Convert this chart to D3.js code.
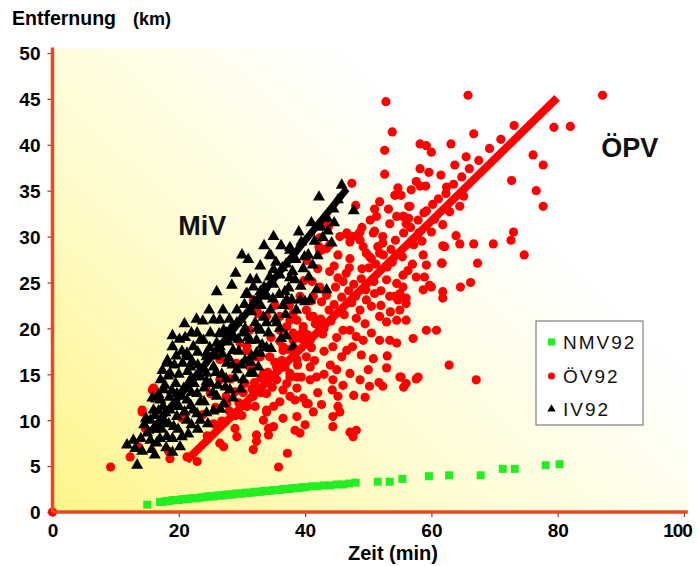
<!DOCTYPE html>
<html><head><meta charset="utf-8">
<script src="https://cdn.jsdelivr.net/npm/d3@7"></script>
<style>
html,body{margin:0;padding:0;background:#fff;}
svg{display:block;font-family:"Liberation Sans",Arial,sans-serif;}
</style></head>
<body>
<svg id="chart" width="698" height="566"></svg>
<script>
// ---- data ----
const xTicks = [0, 20, 40, 60, 80, 100];
const yTicks = [0, 5, 10, 15, 20, 25, 30, 35, 40, 45, 50];
const seriesNames = ["NMV92", "ÖV92", "IV92"];
const seriesColors = ["#22ee22", "#ff0000", "#000000"];

const nmv92 = [[15,0.8],[17,1.1],[17.5,1.1],[18,1.2],[18.5,1.2],[19,1.3],[19.5,1.3],[20,1.3],[20.5,1.4],[21,1.4],[21.5,1.4],[22,1.5],[22.5,1.5],[23,1.5],[23.5,1.6],[24,1.6],[24.5,1.7],[25,1.7],[25.5,1.7],[26,1.8],[26.5,1.8],[27,1.8],[27.5,1.9],[28,1.9],[28.5,1.9],[29,2.0],[29.5,2.0],[30,2.0],[30.5,2.1],[31,2.1],[31.5,2.1],[32,2.2],[32.5,2.2],[33,2.2],[33.5,2.3],[34,2.3],[34.5,2.3],[35,2.4],[35.5,2.4],[36,2.4],[36.5,2.5],[37,2.5],[37.5,2.5],[38,2.6],[38.5,2.6],[39,2.6],[39.5,2.7],[40,2.7],[41,2.8],[42,2.8],[43,2.9],[44,2.9],[45,3.0],[46,3.0],[47,3.1],[48,3.2],
[51.5,3.3],[53.4,3.3],[55.4,3.6],[59.6,3.9],[62.8,4.0],[67.8,4.0],[71.3,4.7],[73.2,4.7],[78.1,5.1],[80.3,5.2]];

const oev92 = [[0,0],[9.2,4.9],[12.3,6.0],[14.2,10.9],[15.8,13.3],[14.7,9.1],[13.6,7.1],[18.4,6.6],[18.6,5.8],[22.9,5.5],[20.5,10.2],[24.4,13.8],[25.0,12.9],[26.5,7.5],[27.1,7.1],[28.9,9.1],[29.2,8.2],[30.8,11.5],[33.4,10.0],[33.9,11.1],[35.0,9.3],[28.9,13.1],[30.5,14.0],[31.3,15.8],[32.3,16.9],[27.6,11.8],[33.9,12.9],[35.5,14.4],[30.8,17.6],[29.7,18.4],[26.5,16.6],[26.5,14.4],[32.3,22.0],[33.9,21.3],[37.1,20.2],[38.7,20.9],[40.2,22.0],[39.7,19.8],[36.5,17.6],[38.7,16.6],[40.2,16.9],[38.7,14.7],[40.8,14.4],[37.6,12.6],[40.2,11.8],[21.3,6.0],[16.0,13.5],[14.2,11.1],
[43.7,31.1],[42.3,28.5],[43.4,28.7],[43.9,26.2],[42.3,24.5],[43.4,24.0],[39.2,23.5],[41.3,23.5],[38.1,21.6],[36.0,21.3],[38.1,19.5],[36.0,18.6],[31.8,23.1],[32.6,21.6],[30.8,18.0],[32.9,16.9],
[55.2,14.7],[57.6,14.5],[55.6,13.6],[51.7,14.1],[47.7,12.7],[45.2,12.6],[44.3,13.3],[42.6,11.7],[41.3,10.9],[40.5,11.8],[39.7,12.4],[38.4,12.2],[38.7,13.5],[36.5,13.3],[37.6,14.7],[45.2,11.5],[45.5,10.9],[44.4,10.4],[44.4,9.3],[47.1,8.7],[48.1,8.9],[47.6,8.2],[38.4,8.9],[39.2,8.6],[36.5,10.2],[38.7,10.4],[33.9,10.9],[32.1,11.5],[31.8,12.6],[34.2,9.1],[34.2,8.4],[32.3,8.4],[32.3,7.7],[31.8,6.8],[37.2,6.4],[35.8,4.9],
[42.6,28.5],[43.9,29.1],[45.2,28.0],[47.1,27.6],[49.7,28.2],[50.5,27.6],[51.5,28.9],[51.8,28.2],[61.8,29.0],[58.7,28.0],[61.6,27.1],[45.2,25.5],[46.0,25.1],[52.9,25.3],[54.5,24.9],[55.5,24.5],[57.6,25.6],[58.9,25.6],[58.7,24.2],[59.7,24.7],[49.7,23.1],[50.5,22.4],[53.4,23.5],[54.7,23.1],[56.0,23.3],[43.4,23.6],[42.6,22.9],[48.7,22.0],[48.1,21.1],[51.8,21.3],[52.9,20.7],[54.5,20.9],[56.0,20.9],[59.2,19.8],[57.1,18.9],[39.7,20.2],[39.2,19.3],[40.8,18.7],[41.3,21.3],[42.1,20.4],[47.1,19.8],[48.1,19.1],[49.2,18.7],[51.8,18.7],[53.4,18.7],[54.5,18.4],[44.4,18.0],[46.6,17.6],[45.8,16.9],[48.9,17.1],[50.8,16.7],[52.9,15.7],[55.0,14.7],[57.9,14.7],[47.1,15.1],[44.4,14.4],[48.7,14.4],[41.8,14.7],[40.8,15.8],[39.4,14.7],[56.0,14.0],[52.3,13.7],[50.2,13.7],[40.8,21.3],[37.6,20.9],[36.0,19.8],[36.5,18.0],[38.1,18.7],[34.4,16.9],[35.5,15.8],[33.4,15.1],[37.6,15.1],[37.1,14.0],
[52.8,44.7],[53.8,41.4],[52.6,39.4],[52.6,36.8],[58.2,40.1],[59.2,39.9],[60.0,39.2],[58.2,37.4],[58.2,35.5],[59.1,35.5],[62.4,35.4],[47.4,35.8],[48.0,33.4],[51.8,33.8],[54.7,35.3],[54.2,34.5],[55.2,34.5],[56.4,33.3],[59.2,32.8],[51.0,33.0],[51.3,32.2],[54.5,32.2],[55.6,32.2],[56.4,32.0],[53.4,31.4],[56.0,31.4],[51.0,30.6],[61.8,31.3],[43.5,31.2],[46.7,30.2],[47.6,30.0],[48.5,30.3],[47.1,29.4],[48.7,29.6],[42.4,29.9],[42.2,28.9],[52.3,29.3],
[65.8,45.4],[87.1,45.4],[79.4,41.9],[82.0,42.0],[66.7,41.2],[63.1,40.1],[76.1,38.9],[77.7,37.8],[72.7,36.1],[76.6,35.0],[77.7,33.3],[64.5,33.3],[63.9,30.1],[64.5,29.2],[62.1,28.9],[66.7,29.2],[69.8,29.2],[72.6,29.6],[73.0,30.5],[74.7,28.0],[61.7,27.1],[67.3,27.1],[60.0,24.5],[61.8,24.0],[61.8,23.3],[64.6,24.5],[66.2,25.0],[60.8,19.8],[62.8,16.0],[67.1,14.4],
[59.2,26.9],[55.0,22.0],[56.0,22.7],[54.2,23.5],[55.0,23.8],[50.8,30.4],[49.2,28.9],[50.2,27.8],[52.3,30.0],[55.5,32.2],[56.6,33.3],[45.5,30.0],[46.6,30.4],[48.7,30.5],
[24.5,8.3],[25.5,9.6],[26.8,9.9],[28.0,11.0],[29.5,11.9],[30.2,13.0],[31.6,13.4],[33.0,14.6],[34.1,15.2],[35.2,16.3],[36.3,16.5],[37.4,17.7],[38.2,17.9],[39.3,18.9],[40.4,19.3],[41.6,20.5],[42.5,21.0],[43.8,22.0],[44.6,22.6],[45.8,23.4],[46.9,24.1],[47.7,24.8],[48.9,25.4],[50.1,26.6],[51.2,27.0],[52.4,28.0],[53.6,28.6],[54.3,29.6],[55.6,30.4],[56.7,31.0],[57.9,31.8],[58.8,32.6],[60.2,33.5],[61.1,34.1],[62.3,34.7],[63.5,35.7],[64.8,36.5],[66.0,37.4],[67.5,38.3],[69.2,39.6],[71.0,40.6],[73.1,42.1],
[27.5,12.6],[29.0,10.5],[32.0,14.1],[34.8,13.6],[36.8,15.8],[38.8,16.0],[41.0,17.9],[42.8,19.4],[44.1,20.8],[46.2,21.5],[45.0,19.0],[47.4,22.8],[49.6,24.2],[50.9,25.1],[53.0,26.7],[52.0,24.1],[55.4,27.8],[57.2,29.1],[56.3,26.3],[58.0,30.4],[60.5,31.9],[62.9,32.7],[65.1,34.4],[63.7,37.8],[65.5,38.7],[61.5,36.7],[59.6,37.0],[57.6,36.0],[56.8,35.1],[53.2,33.0],[50.3,31.8],[49.0,31.0],[47.0,26.6],[44.6,26.8],[41.1,25.1],[40.3,27.4],[37.5,22.5],[35.2,22.5],[34.6,19.0],[31.2,19.8],[29.1,16.2],[28.2,14.5],[25.8,11.4],[23.8,10.6],
[41.5,16.5],[43.0,17.5],[44.0,16.0],[46.0,19.8],[47.5,18.0],[49.5,20.5],[50.5,19.5],[52.0,22.5],[53.5,21.8],[51.0,23.8],[48.0,23.5],[46.5,26.0],[44.8,24.5],[42.0,26.5],[41.0,23.0],[39.8,25.2],[43.0,20.0],[45.5,21.8],[49.0,26.5],[53.8,27.2],[55.5,25.8],[57.0,27.0],[58.5,29.5],[60.0,30.5],[45.0,15.5],[43.0,15.0],[50.0,15.5],[53.0,17.0],[49.5,12.5],[46.0,13.8],[42.0,13.0],[40.0,9.5],[36.0,12.0],[35.0,11.5],[33.0,13.0],[30.0,10.5]];

const iv92 = [[35.0,30.0],[34.6,27.9],[32.9,26.8],[37.6,28.5],[39.4,29.4],[39.7,26.5],[35.0,26.4],[31.3,25.3],[32.3,25.3],[28.4,24.7],[30.6,23.7],[38.4,25.3],[40.8,23.1],[37.9,23.1],
[45.8,35.6],[42.2,34.3],[47.7,32.8],[44.2,29.3],[37.6,28.8],
[34.4,28.0],[37.6,25.5],[41.8,24.2],[43.4,24.2],[39.2,23.1],[40.0,22.9],[37.1,23.1],[32.1,20.6],[33.9,20.6],[35.5,20.6],[32.3,18.7],[32.9,17.3],[31.8,15.1],[38.1,18.0],
[20.9,20.5],[25.5,20.9],[27.1,19.8],[29.2,20.6],[22.9,19.5],[23.4,18.7],[25.0,19.5],[26.0,18.4],[18.1,16.2],[18.6,15.1],[21.3,16.9],[22.3,18.0],[21.8,15.8],[17.1,14.4],[17.6,13.3],[17.1,12.2],[16.0,11.1],[15.5,10.0],[15.0,8.6],[11.8,7.3],[13.1,6.9],[13.4,5.1],[15.7,6.8],[16.5,7.5],[20.5,8.2],[20.2,7.1],[19.2,9.3],[21.3,10.0],[22.3,11.1],[23.4,10.0],[24.4,10.8],[26.0,12.6],[27.1,11.8],[28.1,13.3],[25.0,14.0],[30.2,14.4],[31.3,15.1],[29.2,15.5],[27.6,16.2],[32.3,17.3],[31.3,18.7],[32.9,19.8],[30.2,19.5],[28.6,17.6],[26.5,18.0],[24.4,16.9],[19.7,12.9],[21.3,12.2],[22.9,12.9],[18.6,11.1],[19.7,10.4],[23.4,14.7],[21.8,14.4],[25.5,15.8],[24.4,15.1],[18.1,8.2],[17.1,10.0],[15.5,7.8],
[30.8,23.8],[31.8,24.5],[29.2,22.0],[26.5,20.9],[23.9,18.7],[21.3,17.3],[24.4,17.3],[27.6,19.5],
[16.5,9.2],[17.8,9.8],[18.5,12.5],[19.5,14.0],[20.0,15.0],[20.8,13.5],[22.0,13.0],[23.0,16.0],[24.0,13.5],[25.8,17.0],[26.8,15.0],[27.8,18.5],[28.8,19.0],[29.8,21.0],[30.5,20.0],[31.5,21.8],[33.0,22.5],[34.0,23.5],[35.0,24.8],[36.0,25.8],[36.8,24.0],[37.0,27.0],[38.5,27.5],[40.5,28.0],[41.5,29.5],[42.5,31.0],[43.5,32.0],[44.5,33.0],[41.0,31.5],[39.0,30.5],[36.2,29.0],[33.5,24.5],[34.5,22.0],[36.5,22.5],[17.0,8.0],[18.0,7.0],[19.0,8.0],[14.0,8.0],[14.5,9.5],[16.0,9.0],[17.5,11.5],[16.8,12.8],[19.3,16.0],[20.5,17.5],[22.0,19.5],[23.8,20.8],[19.0,18.0],[20.0,11.5],[21.5,8.5],[23.0,9.0],[24.0,12.0],[25.5,11.0],[26.2,13.8],[27.5,14.5],[28.5,16.0],[29.5,17.5],[30.5,16.5],[31.5,17.0],[33.2,18.2],[34.2,19.5],[35.3,21.0],[36.0,20.0],[24.8,22.0],[22.8,21.0],[27.0,22.0],[28.0,21.0],[17.8,13.8],[18.2,16.5],[26.0,24.0],[29.0,26.0],[31.0,27.5],[33.5,29.0],[30.0,28.0],
[16.2,10.5],[16.8,11.0],[17.3,9.0],[17.9,10.8],[18.4,9.6],[18.9,13.2],[19.4,11.8],[19.9,9.0],[20.4,12.6],[20.9,10.9],[21.4,15.3],[21.9,11.6],[22.4,14.0],[22.9,10.7],[23.4,12.0],[23.9,15.6],[24.4,14.2],[24.9,17.9],[25.4,13.0],[25.9,15.2],[26.4,19.4],[26.9,17.2],[27.4,13.6],[27.9,16.8],[28.4,20.2],[28.9,14.6],[29.4,18.8],[29.9,16.0],[30.4,22.6],[30.9,19.0],[31.4,16.3],[31.9,22.9],[32.4,20.0],[32.9,24.0],[33.4,21.2],[33.9,17.9],[34.4,25.6],[34.9,23.2],[35.4,27.2],[35.9,23.7],[36.4,26.6],[36.9,21.5],[37.4,24.4],[38.0,26.2],[38.6,22.0],[39.3,24.6],[39.9,27.8],[40.6,25.6],[41.2,26.9],[42.0,27.9],[42.8,29.9],[43.6,30.6],[44.6,31.5],[45.2,34.0],[19.0,19.2],[20.1,18.8],[21.0,19.0],[23.0,17.4],[22.1,16.4],[20.6,16.2],[19.6,17.0],[18.3,14.8],[17.4,15.4],[16.4,12.3],[15.8,12.4],[14.8,10.2],[14.2,6.6],[12.8,7.8],[16.2,6.2],[19.0,6.5],[22.0,9.5],[24.6,9.6],[26.6,11.2],[28.6,12.4],[29.8,13.4],[32.6,15.8],[34.6,17.8],[36.2,18.9],[37.0,19.2]];

// trend lines (endpoints)
const trendOeV = [[21.2, 5.6], [79.9, 45.1]];
const trendIV = [[15.5, 8.7], [46.6, 35.2]];

const annotations = [{text: "MiV", x: 23.7, y: 30.2}, {text: "ÖPV", x: 91.4, y: 38.7}];

// ---- drawing ----
const svg = d3.select("#chart");
const x = d3.scaleLinear().domain([0, 100]).range([52.5, 684]);
const y = d3.scaleLinear().domain([0, 50]).range([512, 53]);
const axisColor = "#e84a1e";

const defs = svg.append("defs");
const grad = defs.append("linearGradient").attr("id", "bg")
  .attr("gradientUnits", "userSpaceOnUse")
  .attr("x1", x(0)).attr("y1", y(0)).attr("x2", x(68)).attr("y2", y(50));
grad.append("stop").attr("offset", 0).attr("stop-color", "#fff58a");
grad.append("stop").attr("offset", 0.45).attr("stop-color", "#fffcd2");
grad.append("stop").attr("offset", 0.85).attr("stop-color", "#ffffff");

svg.append("rect").attr("x", x(0)).attr("y", y(50.5))
  .attr("width", x(100.5) - x(0)).attr("height", y(0) - y(50.5))
  .attr("fill", "url(#bg)");

// axes
const xAxis = d3.axisBottom(x).tickValues(xTicks).tickSize(5).tickPadding(4);
const yAxis = d3.axisLeft(y).tickValues(yTicks).tickSize(5).tickPadding(5);
const gx = svg.append("g").attr("transform", `translate(0,${y(0)})`).call(xAxis);
const gy = svg.append("g").attr("transform", `translate(${x(0)},0)`).call(yAxis);
[gx, gy].forEach(g => {
  g.select(".domain").remove();
  g.selectAll(".tick line").attr("stroke", "#8a3a2a").attr("stroke-width", 1.2);
  g.selectAll(".tick text").attr("fill", "#000").style("font-size", "19px").style("font-weight", "bold")
    .style("font-family", "'Liberation Sans',Arial,sans-serif");
});
gx.selectAll(".tick text").attr("dy", "0.85em");
gx.selectAll(".tick text").filter(d => d === 100).attr("dx", "-7").style("letter-spacing", "-1px");
gy.selectAll(".tick text").attr("dx", "-2").attr("dy", "0.36em");

// series
svg.append("g").selectAll("rect").data(nmv92).join("rect")
  .attr("x", d => x(d[0]) - 4).attr("y", d => y(d[1]) - 4)
  .attr("width", 8).attr("height", 8).attr("fill", seriesColors[0]);

svg.append("g").selectAll("circle").data(oev92).join("circle")
  .attr("cx", d => x(d[0])).attr("cy", d => y(d[1])).attr("r", 4.6)
  .attr("fill", seriesColors[1]);

const tri = d3.symbol().type(d3.symbolTriangle).size(62);
svg.append("g").selectAll("path").data(iv92).join("path")
  .attr("d", tri).attr("transform", d => `translate(${x(d[0])},${y(d[1])})`)
  .attr("fill", seriesColors[2]);

// trend lines
const line = d3.line().x(d => x(d[0])).y(d => y(d[1]));
svg.append("path").attr("d", line(trendOeV)).attr("stroke", "#ff0000").attr("stroke-width", 8).attr("fill", "none");
svg.append("path").attr("d", line(trendIV)).attr("stroke", "#000").attr("stroke-width", 7).attr("fill", "none");

// axis lines
svg.append("line").attr("x1", x(0)).attr("x2", x(0)).attr("y1", y(50.6)).attr("y2", y(0))
  .attr("stroke", axisColor).attr("stroke-width", 3.5);
svg.append("line").attr("x1", x(0)).attr("x2", x(100.6)).attr("y1", y(0)).attr("y2", y(0))
  .attr("stroke", axisColor).attr("stroke-width", 3.5);

// annotations
svg.append("g").selectAll("text").data(annotations).join("text")
  .attr("x", d => x(d.x)).attr("y", d => y(d.y))
  .attr("text-anchor", "middle").style("font-size", "27px").style("font-weight", "bold")
  .attr("fill", "#111").text(d => d.text);

// titles
svg.append("text").attr("x", 12).attr("y", 25).style("font-size", "19.5px").style("font-weight", "bold").text("Entfernung");
svg.append("text").attr("x", 133).attr("y", 25).style("font-size", "18px").style("font-weight", "bold").text("(km)");
svg.append("text").attr("x", 348).attr("y", 560).style("font-size", "20px").style("font-weight", "bold").text("Zeit (min)");

// legend
const lg = svg.append("g").attr("transform", "translate(536,321)");
lg.append("rect").attr("width", 107).attr("height", 104).attr("fill", "#fff").attr("stroke", "#666").attr("stroke-width", 1);
const rowsY = [21, 55, 88];
lg.append("rect").attr("x", 12).attr("y", rowsY[0] - 3.5).attr("width", 7).attr("height", 7).attr("fill", seriesColors[0]);
lg.append("circle").attr("cx", 15.5).attr("cy", rowsY[1]).attr("r", 3.5).attr("fill", seriesColors[1]);
lg.append("path").attr("d", d3.symbol().type(d3.symbolTriangle).size(30)).attr("transform", `translate(15.5,${rowsY[2]})`).attr("fill", seriesColors[2]);
lg.selectAll("text.lab").data(seriesNames).join("text").attr("class", "lab")
  .attr("x", 27).attr("y", (d, i) => rowsY[i] + 6.5)
  .style("font-size", "19px").style("letter-spacing", "2px").attr("fill", "#111").text(d => d);
</script>
</body></html>
